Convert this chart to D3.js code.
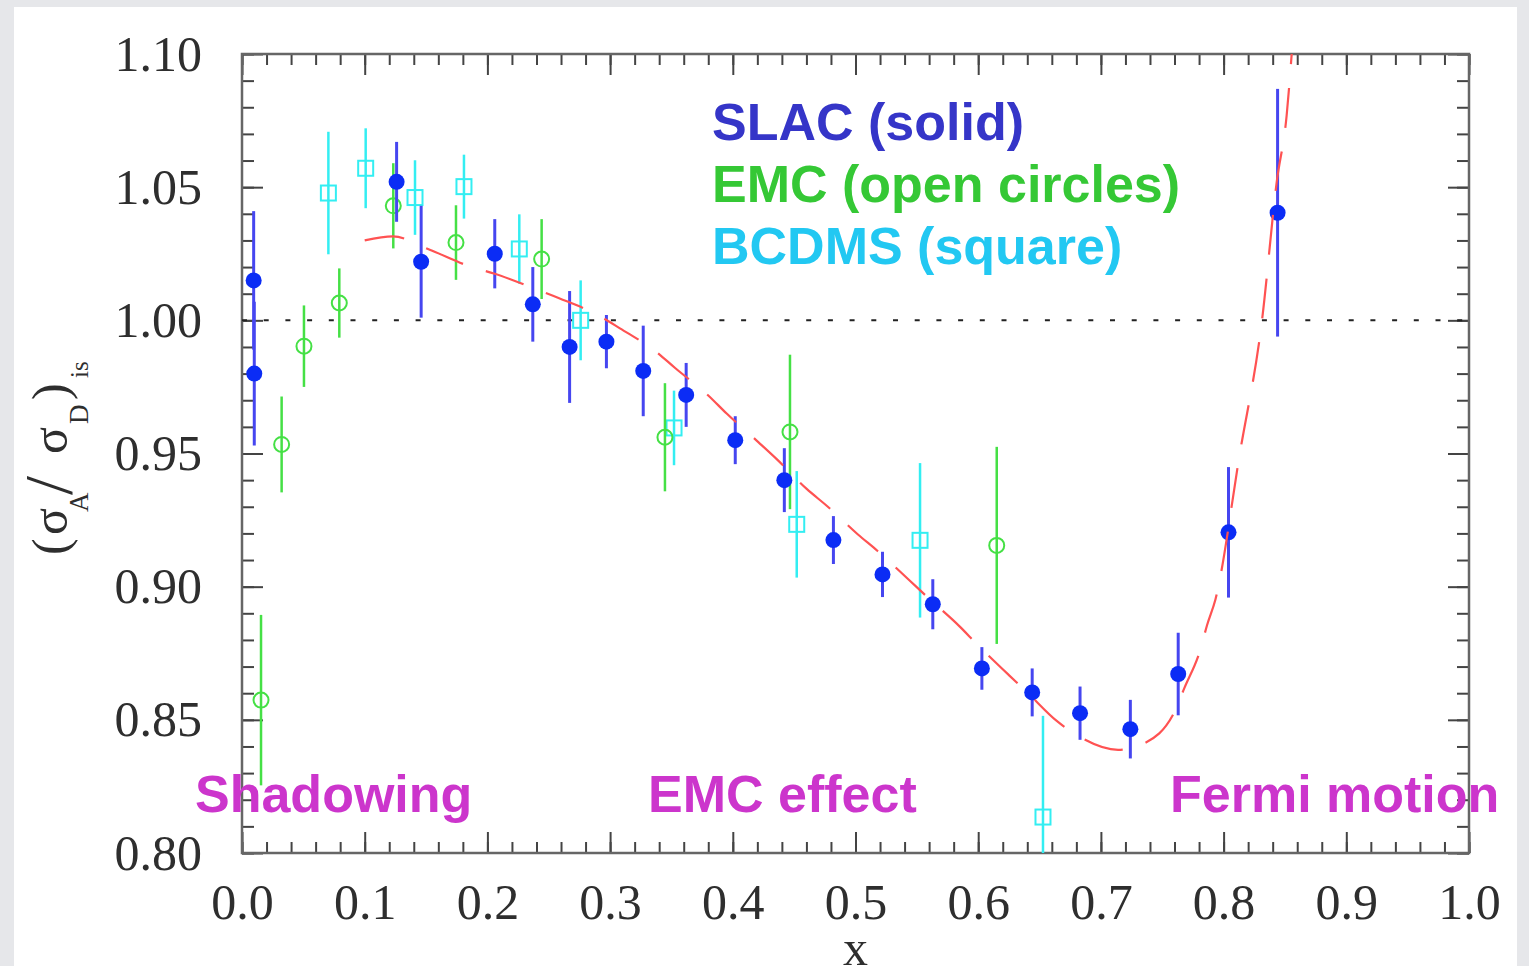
<!DOCTYPE html>
<html>
<head>
<meta charset="utf-8">
<script src="https://cdn.jsdelivr.net/npm/d3@7"></script>
<style>
	body{margin:0;background:#e6e7ea;overflow:hidden;}
	.tick text{font-family:'Liberation Serif',serif;font-size:50px;fill:#2e2e2e;}
	.tick line{stroke:#444;stroke-width:2;}
	.lbl{font-family:'Liberation Sans',Arial,sans-serif;font-weight:bold;font-size:52px;}
</style>
</head>
<body>
<div id="plot"></div>
<script>
// SLAC (solid dots)
var slacX = [0.0095, 0.0100, 0.126, 0.146, 0.206, 0.237, 0.267, 0.297, 0.327, 0.362, 0.402, 0.442, 0.482, 0.522, 0.563, 0.603, 0.644, 0.683, 0.724, 0.763, 0.804, 0.844],
	slacY = [1.015, 0.980, 1.052, 1.022, 1.025, 1.006, 0.990, 0.992, 0.981, 0.972, 0.955, 0.940, 0.9175, 0.9046, 0.8934, 0.8693, 0.8603, 0.8525, 0.8465, 0.8672, 0.9204, 1.0404],
	slacErr = [0.026, 0.027, 0.015, 0.021, 0.013, 0.014, 0.021, 0.010, 0.017, 0.012, 0.009, 0.012, 0.009, 0.0085, 0.0094, 0.008, 0.009, 0.010, 0.011, 0.0155, 0.0245, 0.0465];
// EMC (open circles)
var emcX = [0.0155, 0.0323, 0.0505, 0.0793, 0.1233, 0.1744, 0.2442, 0.3447, 0.4466, 0.6151],
	emcY = [0.8574, 0.9534, 0.9903, 1.0065, 1.043, 1.0292, 1.023, 0.9561, 0.9581, 0.9155],
	emcErr = [0.032, 0.018, 0.0153, 0.013, 0.016, 0.014, 0.015, 0.0203, 0.029, 0.037];
// BCDMS (squares)
var bcdmsX = [0.0704, 0.1008, 0.141, 0.1809, 0.226, 0.276, 0.3521, 0.4521, 0.5526, 0.6528],
	bcdmsY = [1.0478, 1.0571, 1.0461, 1.0502, 1.0268, 1.000, 0.9596, 0.9234, 0.9174, 0.8135],
	bcdmsErr = [0.023, 0.015, 0.014, 0.012, 0.013, 0.015, 0.014, 0.020, 0.029, 0.038];
// fit curve (red dashed)
var fitX = [0.100, 0.123, 0.153, 0.186, 0.206, 0.239, 0.258, 0.292, 0.308, 0.337, 0.353, 0.380, 0.395, 0.421, 0.436, 0.460, 0.477, 0.502, 0.518, 0.543, 0.559, 0.585, 0.599, 0.625, 0.640, 0.664, 0.682, 0.714, 0.733, 0.760, 0.768, 0.781, 0.7865, 0.7934, 0.813, 0.8313, 0.8433, 0.8514, 0.8555],
	fitY = [1.0300, 1.0315, 1.0265, 1.0202, 1.0175, 1.0118, 1.0084, 1.0015, 0.997, 0.9884, 0.9821, 0.9718, 0.965, 0.9542, 0.9478, 0.9368, 0.9302, 0.9196, 0.9134, 0.9028, 0.8959, 0.885, 0.8784, 0.8668, 0.8603, 0.8496, 0.8438, 0.8387, 0.8407, 0.853, 0.8619, 0.8763, 0.8855, 0.8953, 0.9494, 1.000, 1.052, 1.077, 1.100];

var xTicks = [0.0, 0.1, 0.2, 0.3, 0.4, 0.5, 0.6, 0.7, 0.8, 0.9, 1.0],
	yTicks = [0.80, 0.85, 0.90, 0.95, 1.00, 1.05, 1.10];
var legendLabels = ['SLAC (solid)', 'EMC (open circles)', 'BCDMS (square)'],
	regionLabels = ['Shadowing', 'EMC effect', 'Fermi motion'];

var W = 1529, H = 966,
	box = {l:242, t:54, r:1469, b:853};

var svg = d3.select('#plot').append('svg')
	.attr('width', W).attr('height', H);

svg.append('rect').attr('x',14).attr('y',7).attr('width',1503).attr('height',H).attr('fill','#fff');

var scaleX = d3.scaleLinear().domain([0,1]).range([box.l, box.r]),
	scaleY = d3.scaleLinear().domain([0.8,1.1]).range([box.b, box.t]);

svg.append('clipPath').attr('id','clip')
	.append('rect').attr('x',box.l).attr('y',box.t).attr('width',box.r-box.l).attr('height',box.b-box.t);

function noDomain(g){ g.select('.domain').remove(); }

// axes, ticks all pointing inward
var minorX = d3.range(0,51).map(function(i){return i*0.02}),
	minorY = d3.range(0,31).map(function(i){return 0.8+i*0.01});

svg.append('g').attr('transform','translate(0,'+box.b+')')
	.call(d3.axisBottom(scaleX).tickValues(minorX).tickSize(-11).tickFormat('')).call(noDomain);
svg.append('g').attr('transform','translate(0,'+box.b+')')
	.call(d3.axisBottom(scaleX).tickValues(xTicks).tickSize(-21).tickPadding(30).tickFormat(d3.format('.1f'))).call(noDomain);
svg.append('g').attr('transform','translate(0,'+box.t+')')
	.call(d3.axisTop(scaleX).tickValues(minorX).tickSize(-11).tickFormat('')).call(noDomain);
svg.append('g').attr('transform','translate(0,'+box.t+')')
	.call(d3.axisTop(scaleX).tickValues(xTicks).tickSize(-21).tickFormat('')).call(noDomain);

svg.append('g').attr('transform','translate('+box.l+',0)')
	.call(d3.axisLeft(scaleY).tickValues(minorY).tickSize(-12).tickFormat('')).call(noDomain);
svg.append('g').attr('transform','translate('+box.l+',0)')
	.call(d3.axisLeft(scaleY).tickValues(yTicks).tickSize(-21).tickPadding(40).tickFormat(d3.format('.2f'))).call(noDomain);
svg.append('g').attr('transform','translate('+box.r+',0)')
	.call(d3.axisRight(scaleY).tickValues(minorY).tickSize(-12).tickFormat('')).call(noDomain);
svg.append('g').attr('transform','translate('+box.r+',0)')
	.call(d3.axisRight(scaleY).tickValues(yTicks).tickSize(-21).tickFormat('')).call(noDomain);

svg.selectAll('.tick text').attr('font-family',null).attr('font-size',null).attr('fill',null);

svg.append('rect').attr('x',box.l).attr('y',box.t)
	.attr('width',box.r-box.l).attr('height',box.b-box.t)
	.attr('fill','none').attr('stroke','#666').attr('stroke-width',2.5);

// unity line
svg.append('line')
	.attr('x1',box.l).attr('x2',box.r)
	.attr('y1',scaleY(1)).attr('y2',scaleY(1))
	.attr('stroke','#222').attr('stroke-width',2).attr('stroke-dasharray','5,16.7');

var plot = svg.append('g').attr('clip-path','url(#clip)');

function zipData(xs,ys,es){
	return xs.map(function(d,i){return {x:d, y:ys[i], e:es[i]}});
}
function errBars(data,color,width){
	plot.append('g').selectAll('line').data(data).enter().append('line')
		.attr('x1',function(d){return scaleX(d.x)}).attr('x2',function(d){return scaleX(d.x)})
		.attr('y1',function(d){return scaleY(d.y+d.e)}).attr('y2',function(d){return scaleY(d.y-d.e)})
		.attr('stroke',color).attr('stroke-width',width);
}

var bcdms = zipData(bcdmsX,bcdmsY,bcdmsErr),
	emc = zipData(emcX,emcY,emcErr),
	slac = zipData(slacX,slacY,slacErr);

errBars(bcdms,'#33eef2',2.5);
plot.append('g').selectAll('rect').data(bcdms).enter().append('rect')
	.attr('x',function(d){return scaleX(d.x)-7.5}).attr('y',function(d){return scaleY(d.y)-7.5})
	.attr('width',15).attr('height',15)
	.attr('fill','none').attr('stroke','#33eef2').attr('stroke-width',2);

errBars(emc,'#45e045',2.5);
plot.append('g').selectAll('circle').data(emc).enter().append('circle')
	.attr('cx',function(d){return scaleX(d.x)}).attr('cy',function(d){return scaleY(d.y)})
	.attr('r',7.5)
	.attr('fill','none').attr('stroke','#45e045').attr('stroke-width',2);

errBars(slac,'#4646f0',3);
plot.append('g').selectAll('circle').data(slac).enter().append('circle')
	.attr('cx',function(d){return scaleX(d.x)}).attr('cy',function(d){return scaleY(d.y)})
	.attr('r',8)
	.attr('fill','#0b2cf5');

var fit = d3.line()
	.x(function(d){return scaleX(d)})
	.y(function(d,i){return scaleY(fitY[i])})
	.curve(d3.curveMonotoneX);
plot.append('path').datum(fitX)
	.attr('d',fit)
	.attr('fill','none').attr('stroke','#ff5252').attr('stroke-width',2.2)
	.attr('stroke-dasharray','40,24');

// axis titles
svg.append('text')
	.attr('x',scaleX(0.5)).attr('y',965)
	.attr('text-anchor','middle')
	.attr('font-family','Liberation Serif, serif').attr('font-size',50).attr('fill','#2e2e2e')
	.text('x');

var yTitle = svg.append('text')
	.attr('transform','translate(67,0) rotate(-90)')
	.attr('font-family','Liberation Serif, serif').attr('fill','#2e2e2e');
[['(',-555,0,50],['σ',-535,0,50],['A',-512,21,27],['/',-495,4,68],['σ',-454,0,50],['D',-424,21,27],[')',-400,0,50],['is',-378,21,25]]
	.forEach(function(p){
		yTitle.append('tspan').attr('x',p[1]).attr('y',p[2]).attr('font-size',p[3]).text(p[0]);
	});

// legend and region notes
var legendColors = ['#3535c8','#35c835','#22c8f2'];
svg.selectAll('.legend').data(legendLabels).enter().append('text')
	.attr('class','lbl legend')
	.attr('x',712).attr('y',function(d,i){return 140+i*62})
	.attr('fill',function(d,i){return legendColors[i]})
	.text(function(d){return d});

var regionX = [195, 648, 1170];
svg.selectAll('.region').data(regionLabels).enter().append('text')
	.attr('class','lbl region')
	.attr('x',function(d,i){return regionX[i]}).attr('y',812)
	.attr('fill','#cc35cc')
	.text(function(d){return d});
</script>
</body>
</html>
